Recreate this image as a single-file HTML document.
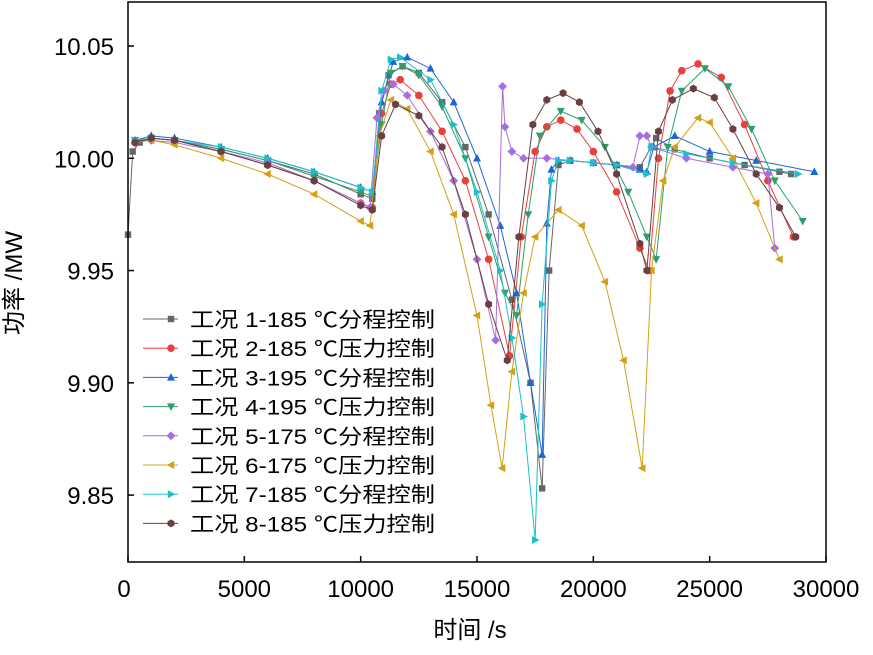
<!DOCTYPE html>
<html><head><meta charset="utf-8"><style>
body{margin:0;background:#fff}
svg text{font-family:"Liberation Sans","Noto Sans CJK SC",sans-serif}
</style></head><body>
<svg id="c" width="873" height="650" xmlns="http://www.w3.org/2000/svg"></svg>
<script>
const xTicks=[0,5000,10000,15000,20000,25000,30000];
const yTicks=[9.85,9.90,9.95,10.00,10.05];
const seriesNames=["工况 1-185 ℃分程控制","工况 2-185 ℃压力控制","工况 3-195 ℃分程控制","工况 4-195 ℃压力控制","工况 5-175 ℃分程控制","工况 6-175 ℃压力控制","工况 7-185 ℃分程控制","工况 8-185 ℃压力控制"];
const s1x=[0,0.2,0.5,1,2,4,6,8,10,10.5,10.8,11.2,11.8,12.5,13.5,14.5,15.5,16.5,17.3,17.8,18.1,18.5,19,20,21,22,22.7,23.5,25,26.5,28,28.5];
const s1y=[9.966,10.003,10.007,10.009,10.008,10.004,9.999,9.993,9.984,9.982,10.02,10.037,10.041,10.038,10.025,10.005,9.975,9.937,9.9,9.853,9.95,9.997,9.999,9.998,9.997,9.996,10.009,10.004,10.0,9.997,9.994,9.993];
const s2x=[0.3,1,2,4,6,8,10,10.5,10.9,11.3,11.7,12.5,13.5,14.5,15.5,16.4,16.9,17.5,18,18.6,19.3,20,21,22,22.4,22.8,23.3,23.8,24.5,25.5,26.5,27.5,28.6];
const s2y=[10.007,10.009,10.008,10.003,9.997,9.99,9.98,9.978,10.02,10.033,10.035,10.028,10.012,9.99,9.955,9.912,9.965,10.003,10.014,10.017,10.013,10.003,9.985,9.96,9.95,10.0,10.03,10.039,10.042,10.036,10.015,9.99,9.965];
const s3x=[0.3,1,2,4,6,8,10,10.5,10.9,11.4,12,13,14,15,16,16.7,17.3,17.8,18.0,18.2,18.5,19,20,21,22,22.3,22.6,23.5,25,27,29.5];
const s3y=[10.008,10.01,10.009,10.005,10.0,9.994,9.987,9.985,10.025,10.043,10.045,10.04,10.025,10.0,9.97,9.94,9.9,9.868,9.971,9.995,9.999,9.999,9.998,9.997,9.995,9.994,10.005,10.01,10.003,9.999,9.994];
const s4x=[0.3,1,2,4,6,8,10,10.5,10.9,11.3,11.8,12.5,13.5,14.5,15.5,16.2,16.7,17.2,17.7,18.6,19.5,20.5,21.5,22.3,22.7,23.2,23.8,24.8,25.8,26.8,27.8,29];
const s4y=[10.008,10.009,10.008,10.004,9.999,9.992,9.985,9.983,10.015,10.038,10.041,10.037,10.023,10.0,9.965,9.94,9.93,9.975,10.01,10.021,10.017,10.005,9.985,9.965,9.955,10.005,10.03,10.04,10.032,10.013,9.99,9.972];
const s5x=[0.3,1,2,4,6,8,10,10.4,10.7,11,11.4,12,13,14,15,15.8,16.1,16.2,16.5,17,18,20,21.7,22,22.3,22.5,24,26,27.5,27.8];
const s5y=[10.007,10.008,10.007,10.003,9.998,9.99,9.98,9.978,10.018,10.03,10.033,10.028,10.012,9.99,9.955,9.919,10.032,10.014,10.003,10.0,10.0,9.998,9.996,10.01,10.01,10.005,10.0,9.996,9.993,9.96];
const s6x=[0.3,1,2,4,6,8,10,10.4,10.8,11.3,12,13,14,15,15.6,16.08,16.5,17,17.5,18.5,19.5,20.5,21.3,22.1,22.5,23,23.5,24.5,25,26,27,28];
const s6y=[10.007,10.008,10.006,10.0,9.993,9.984,9.972,9.97,10.01,10.026,10.022,10.003,9.975,9.93,9.89,9.862,9.905,9.94,9.965,9.977,9.97,9.945,9.91,9.862,9.95,9.99,10.005,10.018,10.016,10.0,9.98,9.955];
const s7x=[0.3,1,2,4,6,8,10,10.5,10.9,11.3,11.7,13,14,15,16,16.5,17,17.5,17.8,18.2,18.5,19,20,21,22.3,22.5,24,26,28.8];
const s7y=[10.008,10.009,10.008,10.005,10.0,9.994,9.987,9.985,10.03,10.044,10.045,10.035,10.015,9.985,9.95,9.92,9.885,9.83,9.935,9.99,9.999,9.999,9.998,9.997,9.993,10.005,10.002,9.998,9.993];
const s8x=[0.3,1,2,4,6,8,10,10.5,10.9,11.5,12.5,13.5,14.5,15.5,16.3,16.8,17.4,18,18.7,19.4,20.2,21,22,22.3,22.8,23.4,24.3,25.2,26,27,28,28.7];
const s8y=[10.007,10.009,10.008,10.003,9.997,9.99,9.979,9.977,10.01,10.024,10.019,10.005,9.975,9.935,9.91,9.965,10.015,10.026,10.029,10.025,10.012,9.993,9.962,9.95,10.012,10.026,10.031,10.027,10.013,9.993,9.978,9.965];
const allX=[s1x,s2x,s3x,s4x,s5x,s6x,s7x,s8x];
const allY=[s1y,s2y,s3y,s4y,s5y,s6y,s7y,s8y];
const colors=["#666666","#e8413c","#1f65d6","#2e9e6a","#a66ee0","#d4a017","#1bc0c8","#6b3f3f"];
const shapes=["square","circle","up","down","diamond","left","right","hex"];
const NS="http://www.w3.org/2000/svg";
const svg=document.getElementById('c');
const L=128,R=826,T=2,B=562;
const xMin=0,xMax=30000,yMin=9.8202,yMax=10.0696;
function px(x){return L+(x-xMin)/(xMax-xMin)*(R-L);}
function py(v){return B-(v-yMin)/(yMax-yMin)*(B-T);}
function mk(tag,at,parent){const e=document.createElementNS(NS,tag);for(const k in at)e.setAttribute(k,at[k]);(parent||svg).appendChild(e);return e;}
function marker(shape,x,y,col,s,parent){
  let e;
  if(shape==="square")e=mk('rect',{x:x-s*0.8,y:y-s*0.8,width:s*1.6,height:s*1.6,fill:col},parent);
  else if(shape==="circle")e=mk('circle',{cx:x,cy:y,r:s*0.95,fill:col},parent);
  else{let p;
    if(shape==="up")p=[[0,-1.1],[1,0.8],[-1,0.8]];
    else if(shape==="down")p=[[0,1.1],[1,-0.8],[-1,-0.8]];
    else if(shape==="left")p=[[-1.1,0],[0.8,-1],[0.8,1]];
    else if(shape==="right")p=[[1.1,0],[-0.8,-1],[-0.8,1]];
    else if(shape==="diamond")p=[[0,-1.1],[1.1,0],[0,1.1],[-1.1,0]];
    else{p=[];for(let i=0;i<6;i++){const a=Math.PI/6+i*Math.PI/3;p.push([Math.cos(a),Math.sin(a)]);}}
    e=mk('polygon',{points:p.map(q=>(x+q[0]*s)+','+(y+q[1]*s)).join(' '),fill:col},parent);}
  return e;
}
const plot=mk('g',{});


for(let i=0;i<8;i++){
  const g=mk('g',{},plot);
  
  
  const pts=allX[i].map((x,j)=>px(x*1000)+','+py(allY[i][j]));
  const pl=mk('polyline',{points:pts.join(' '),fill:'none',stroke:colors[i],'stroke-width':1},g);
  
  
  allX[i].forEach((x,j)=>{
    const m=marker(shapes[i],px(x*1000),py(allY[i][j]),colors[i],4,g);
    
    
  });
}
const frame=mk('rect',{x:L,y:T,width:R-L,height:B-T,fill:'none',stroke:'#000','stroke-width':1.5});


xTicks.forEach(t=>{
  const x=px(t);
  const tk=mk('line',{x1:x,x2:x,y1:B,y2:B-6,stroke:'#000','stroke-width':1.5});
  
  
  const tx=mk('text',{x:t===0?x-4:x,y:B+35,'text-anchor':'middle','font-size':24});
  tx.textContent=t;
  
  
});
yTicks.forEach(t=>{
  const y=py(t);
  const tk=mk('line',{x1:L,x2:L+6,y1:y,y2:y,stroke:'#000','stroke-width':1.5});
  
  
  const tx=mk('text',{x:L-14,y:y+9,'text-anchor':'end','font-size':24});
  tx.textContent=t.toFixed(2);
  
  
});
const xt=mk('text',{x:470,y:638,'text-anchor':'middle','font-size':24});
xt.textContent='时间 /s';


const yt=mk('text',{x:0,y:0,'text-anchor':'middle','font-size':24,transform:'translate(22,283) rotate(-90)'});
yt.textContent='功率 /MW';


const lg=mk('g',{});


seriesNames.forEach((n,i)=>{
  const y=319+i*29.2;
  const g=mk('g',{},lg);
  
  
  mk('line',{x1:143,x2:178,y1:y,y2:y,stroke:colors[i],'stroke-width':1},g);
  marker(shapes[i],171,y,colors[i],4,g);
  const t=mk('text',{x:190,y:y+8,'font-size':21,textLength:245,lengthAdjust:'spacingAndGlyphs'},g);
  t.textContent=n;
});
</script>
</body></html>
